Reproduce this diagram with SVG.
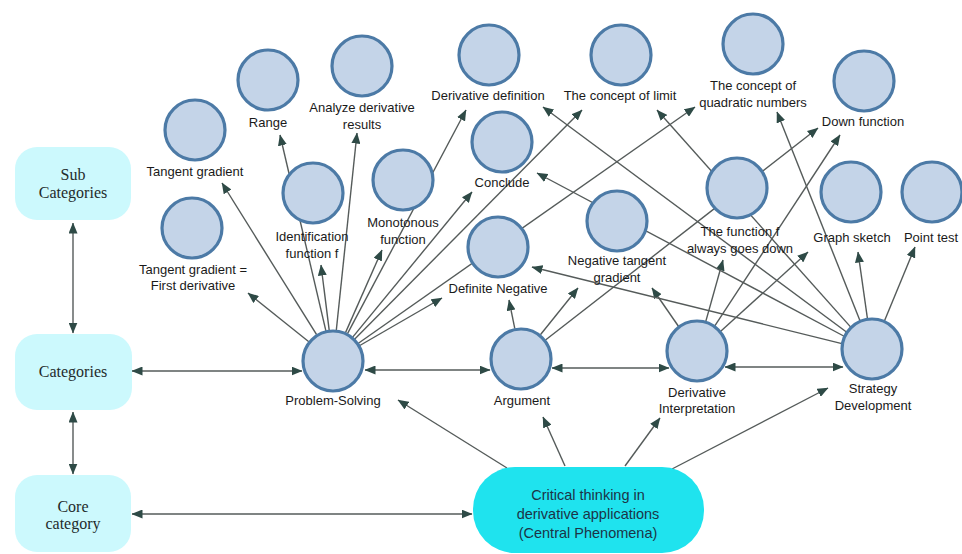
<svg xmlns="http://www.w3.org/2000/svg" width="962" height="554" viewBox="0 0 962 554">
<defs>
<marker id="ah" viewBox="0 0 11 9" refX="10.5" refY="4.5" markerWidth="11" markerHeight="9" markerUnits="userSpaceOnUse" orient="auto-start-reverse"><path d="M0,0 L11,4.5 L0,9 z" fill="#2e4a46"/></marker>
<style>
.e{stroke:#555b5a;stroke-width:1.4;fill:none;marker-end:url(#ah)}
.d{marker-start:url(#ah)}
.n{fill:#c4d4e8;stroke:#4c7aa6;stroke-width:3.2}
.t{font-family:"Liberation Sans",Arial,sans-serif;font-size:13px;fill:#1a1a1a;text-anchor:middle}
.b{fill:#ccf9fd}
.bt{font-family:"Liberation Serif","Times New Roman",serif;font-size:16px;fill:#1f2b2b;text-anchor:middle}
.ct{font-family:"Liberation Sans",Arial,sans-serif;font-size:14.5px;fill:#1c3447;text-anchor:middle}
</style>
</defs>
<rect width="962" height="554" fill="#ffffff"/>
<g id="connectors">
<line class="e d" x1="73" y1="223" x2="73" y2="333"/>
<line class="e d" x1="73" y1="412" x2="73" y2="474"/>
<line class="e d" x1="132" y1="371" x2="302" y2="371"/>
<line class="e d" x1="132" y1="514" x2="472" y2="514"/>
<line class="e d" x1="365" y1="370" x2="490" y2="370"/>
<line class="e d" x1="552" y1="368" x2="669" y2="368"/>
<line class="e d" x1="725" y1="367" x2="843" y2="367"/>
<line class="e" x1="507" y1="468" x2="398" y2="400"/>
<line class="e" x1="565" y1="466" x2="543" y2="417"/>
<line class="e" x1="625" y1="466" x2="660" y2="418"/>
<line class="e" x1="672" y1="469" x2="828" y2="388"/>
<line class="e" x1="316.6" y1="334.7" x2="222" y2="183"/>
<line class="e" x1="308.8" y1="341.7" x2="248" y2="293"/>
<line class="e" x1="325.9" y1="330.8" x2="280" y2="135"/>
<line class="e" x1="329.2" y1="330.2" x2="321" y2="265"/>
<line class="e" x1="336.3" y1="330.2" x2="357" y2="133"/>
<line class="e" x1="345.5" y1="332.6" x2="382" y2="250"/>
<line class="e" x1="347.5" y1="333.6" x2="466" y2="110"/>
<line class="e" x1="352.7" y1="337.1" x2="472" y2="192"/>
<line class="e" x1="354.8" y1="339" x2="582" y2="110"/>
<line class="e" x1="358.4" y1="343.2" x2="695" y2="107"/>
<line class="e" x1="359.8" y1="345.5" x2="442" y2="298"/>
<line class="e" x1="514.8" y1="328.6" x2="509" y2="300"/>
<line class="e" x1="540.4" y1="334.8" x2="578" y2="288"/>
<line class="e" x1="545.5" y1="340" x2="818" y2="128"/>
<line class="e" x1="679.3" y1="327.5" x2="652" y2="288"/>
<line class="e" x1="705.3" y1="323.1" x2="723" y2="260"/>
<line class="e" x1="719.9" y1="332.1" x2="808" y2="252"/>
<line class="e" x1="714" y1="327.1" x2="840" y2="135"/>
<line class="e" x1="883.8" y1="322.4" x2="915" y2="247"/>
<line class="e" x1="867.7" y1="320.3" x2="858" y2="252"/>
<line class="e" x1="860.6" y1="322.2" x2="777" y2="112"/>
<line class="e" x1="851.4" y1="327.9" x2="657" y2="110"/>
<line class="e" x1="847.1" y1="332.5" x2="543" y2="107"/>
<line class="e" x1="844.6" y1="336.5" x2="537" y2="173"/>
<line class="e" x1="841.9" y1="343.6" x2="532" y2="267"/>
</g>
<g id="sub-categories"><rect class="b" x="15" y="147" width="116" height="73" rx="22"/><text class="bt" x="73" y="180">Sub</text><text class="bt" x="73" y="198">Categories</text></g>
<g id="categories"><rect class="b" x="15" y="334" width="117" height="76" rx="22"/><text class="bt" x="73" y="377">Categories</text></g>
<g id="core-category"><rect class="b" x="15" y="475" width="116" height="77" rx="22"/><text class="bt" x="73" y="512">Core</text><text class="bt" x="73" y="529">category</text></g>
<g id="central"><rect x="473" y="467" width="231" height="86" rx="42" fill="#1fe3ee"/><text class="ct" x="588" y="500">Critical thinking in</text><text class="ct" x="588" y="519">derivative applications</text><text class="ct" x="588" y="538">(Central Phenomena)</text></g>
<g id="problem-solving"><circle class="n" cx="333" cy="361" r="30"/><text class="t" x="333" y="405">Problem-Solving</text></g>
<g id="argument"><circle class="n" cx="521" cy="359" r="30"/><text class="t" x="522" y="405">Argument</text></g>
<g id="derivative-interpretation"><circle class="n" cx="697" cy="351" r="30"/><text class="t" x="697" y="397">Derivative</text><text class="t" x="697" y="413">Interpretation</text></g>
<g id="strategy-development"><circle class="n" cx="872" cy="349" r="30"/><text class="t" x="873" y="393">Strategy</text><text class="t" x="873" y="410">Development</text></g>
<g id="tangent-gradient"><circle class="n" cx="195" cy="130" r="30"/><text class="t" x="195" y="176">Tangent gradient</text></g>
<g id="range"><circle class="n" cx="268" cy="80" r="30"/><text class="t" x="268" y="127">Range</text></g>
<g id="analyze"><circle class="n" cx="362" cy="66" r="30"/><text class="t" x="362" y="112">Analyze derivative</text><text class="t" x="362" y="129">results</text></g>
<g id="derivative-definition"><circle class="n" cx="489" cy="55" r="30"/><text class="t" x="488" y="100">Derivative definition</text></g>
<g id="concept-limit"><circle class="n" cx="621" cy="55" r="30"/><text class="t" x="620" y="100">The concept of limit</text></g>
<g id="concept-quadratic"><circle class="n" cx="753" cy="44" r="30"/><text class="t" x="753" y="90">The concept of</text><text class="t" x="753" y="107">quadratic numbers</text></g>
<g id="down-function"><circle class="n" cx="864" cy="81" r="30"/><text class="t" x="863" y="126">Down function</text></g>
<g id="conclude"><circle class="n" cx="502" cy="142" r="30"/><text class="t" x="502" y="187">Conclude</text></g>
<g id="identification"><circle class="n" cx="313" cy="193" r="30"/><text class="t" x="312" y="241">Identification</text><text class="t" x="312" y="258">function f</text></g>
<g id="monotonous"><circle class="n" cx="403" cy="180" r="30"/><text class="t" x="403" y="227">Monotonous</text><text class="t" x="403" y="244">function</text></g>
<g id="tangent-first-derivative"><circle class="n" cx="192" cy="228" r="30"/><text class="t" x="193" y="274">Tangent gradient =</text><text class="t" x="193" y="290">First derivative</text></g>
<g id="definite-negative"><circle class="n" cx="498" cy="247" r="30"/><text class="t" x="498" y="293">Definite Negative</text></g>
<g id="negative-tangent"><circle class="n" cx="617" cy="221" r="30"/><text class="t" x="617" y="265">Negative tangent</text><text class="t" x="617" y="282">gradient</text></g>
<g id="function-down"><circle class="n" cx="737" cy="188" r="30"/><text class="t" x="740" y="236">The function f</text><text class="t" x="740" y="253">always goes down</text></g>
<g id="graph-sketch"><circle class="n" cx="851" cy="192" r="30"/><text class="t" x="852" y="242">Graph sketch</text></g>
<g id="point-test"><circle class="n" cx="932" cy="192" r="30"/><text class="t" x="931" y="242">Point test</text></g>
</svg>
